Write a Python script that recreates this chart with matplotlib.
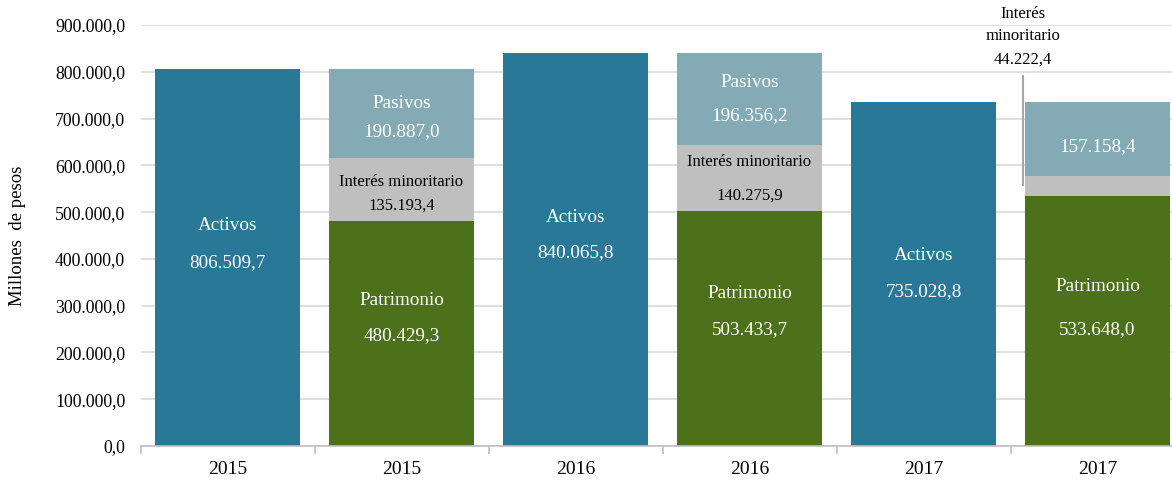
import matplotlib
matplotlib.use("Agg")
import matplotlib.pyplot as plt
import numpy as np

# ---- data ----
categories = ["2015", "2015", "2016", "2016", "2017", "2017"]
activos = [806509.7, 840065.8, 735028.8]
patrimonio = [480429.3, 503433.7, 533648.0]
interes = [135193.4, 140275.9, 44222.4]
pasivos = [190887.0, 196356.2, 157158.4]
yticks = [0, 100000, 200000, 300000, 400000, 500000, 600000, 700000, 800000, 900000]

C_ACT = "#2A7898"
C_PAS = "#84ABB5"
C_INT = "#BFBFBF"
C_PAT = "#4D701A"

plt.rcParams['font.family'] = ['Liberation Serif', 'DejaVu Serif']


def fmt(v):
    s = f"{v:,.1f}"
    return s.replace(",", "X").replace(".", ",").replace("X", ".")


fig = plt.figure(figsize=(11.72, 4.87), dpi=100)
ax = fig.add_axes([140.5 / 1172, 1 - 446 / 487, 1044 / 1172, 421 / 487])

x = np.arange(len(categories))
w = 0.833
xa = x[0::2]
xs = x[1::2]

ax.bar(xa, activos, width=w, color=C_ACT, zorder=2)
pat = np.array(patrimonio)
inte = np.array(interes)
ax.bar(xs, pat, width=w, color=C_PAT, zorder=2)
ax.bar(xs, inte, width=w, bottom=pat, color=C_INT, zorder=2)
ax.bar(xs, pasivos, width=w, bottom=pat + inte, color=C_PAS, zorder=2)

ax.set_ylim(0, 900000)
ax.set_xlim(-0.5, len(categories) - 0.5)
ax.set_yticks(yticks)
ax.set_yticklabels([fmt(v) for v in yticks], fontsize=12.8)
ax.yaxis.grid(True, color="#D9D9D9", lw=1.2, zorder=0)
ax.set_axisbelow(True)
for s in ["left", "right", "top"]:
    ax.spines[s].set_visible(False)
ax.spines["bottom"].set_color("#BFBFBF")
ax.spines["bottom"].set_linewidth(1.2)
ax.tick_params(axis="y", length=0, pad=11)
ax.set_xticks(x)
ax.set_xticklabels(categories, fontsize=14)
ax.tick_params(axis="x", which="major", length=0, pad=11)
ax.set_xticks(np.arange(len(categories) + 1) - 0.5, minor=True)
ax.tick_params(axis="x", which="minor", length=6, color="#BFBFBF", width=1.2)
ax.set_ylabel("Millones  de pesos", fontsize=13.5, labelpad=21)

wt = dict(color="white", ha="center", va="center", fontsize=13.8)
bk = dict(color="black", ha="center", va="center", fontsize=12)

# Activos labels (name, value) y-positions in data units
act_name_y = [472000, 489000, 408000]
act_val_y = [393000, 414000, 331000]
for i, xi in enumerate(xa):
    ax.text(xi, act_name_y[i], "Activos", **wt)
    ax.text(xi, act_val_y[i], fmt(activos[i]), **wt)

# Stacked labels
pas_name_y = [733000, 778000, None]
pas_val_y = [673000, 707000, 639000]
int_name_y = [564000, 607000]
int_val_y = [513000, 536000]
pat_name_y = [312000, 327000, 342000]
pat_val_y = [237000, 248000, 248000]
for i, xi in enumerate(xs):
    if pas_name_y[i] is not None:
        ax.text(xi, pas_name_y[i], "Pasivos", **wt)
    ax.text(xi, pas_val_y[i], fmt(pasivos[i]), **wt)
    if i < 2:
        ax.text(xi, int_name_y[i], "Interés minoritario", **bk)
        ax.text(xi, int_val_y[i], fmt(interes[i]), **bk)
    ax.text(xi, pat_name_y[i], "Patrimonio", **wt)
    ax.text(xi, pat_val_y[i], fmt(patrimonio[i]), **wt)

# 2017 Interés minoritario callout
xc = xs[2] - 0.43
ax.text(xc, 923000, "Interés", clip_on=False, **bk)
ax.text(xc, 876000, "minoritario", clip_on=False, **bk)
ax.text(xc, 825000, fmt(interes[2]), clip_on=False, **bk)
ax.plot([xs[2] - w / 2 - 0.01] * 2, [792000, 557000], color="#A6A6A6", lw=1.5, zorder=3)

fig.savefig("out.png", dpi=100)
